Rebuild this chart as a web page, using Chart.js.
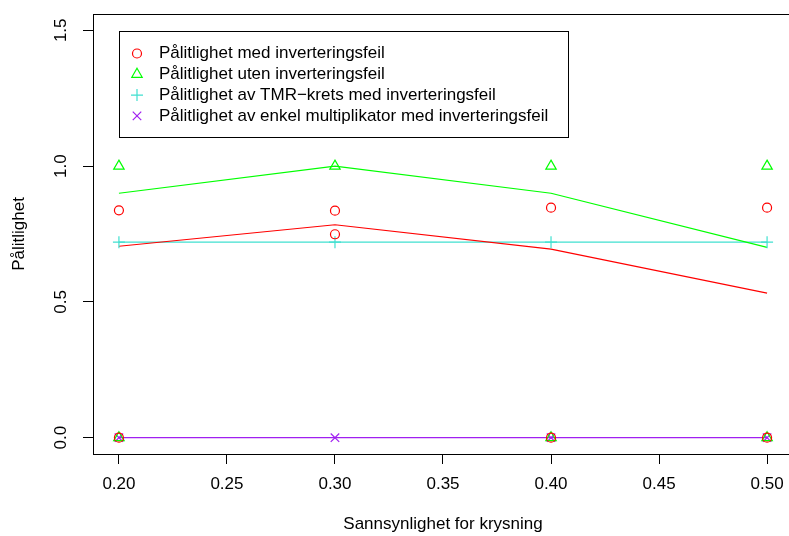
<!DOCTYPE html>
<html>
<head>
<meta charset="utf-8">
<script src="https://cdn.jsdelivr.net/npm/chart.js@4"></script>
<style>
html, body { margin: 0; padding: 0; overflow: hidden; background: #fff; }
</style>
</head>
<body>
<canvas id="chart" width="793" height="536"></canvas>
<script>
const xTicks = [0.20, 0.25, 0.30, 0.35, 0.40, 0.45, 0.50];
const yTicks = [0.0, 0.5, 1.0, 1.5];
const krysning = [0.2, 0.3, 0.4, 0.5];

const labels = [
    "Pålitlighet med inverteringsfeil",
    "Pålitlighet uten inverteringsfeil",
    "Pålitlighet av TMR\u2212krets med inverteringsfeil",
    "Pålitlighet av enkel multiplikator med inverteringsfeil",
];

// single observations [x, y]
const medFeilPunkter = [[0.2, 0.837], [0.2, 0], [0.3, 0.836], [0.3, 0.749], [0.4, 0.847], [0.4, 0], [0.5, 0.847], [0.5, 0]];
const utenFeilPunkter = [[0.2, 1.0], [0.2, 0], [0.3, 1.0], [0.4, 1.0], [0.4, 0], [0.5, 1.0], [0.5, 0]];
const tmrPunkter = [[0.2, 0.72], [0.3, 0.72], [0.4, 0.72], [0.5, 0.72]];
const enkelPunkter = [[0.2, 0], [0.3, 0], [0.4, 0], [0.5, 0]];

// lines through the means
const medFeilLinje = [0.705, 0.784, 0.694, 0.532];
const utenFeilLinje = [0.900, 1.0, 0.900, 0.701];
const tmrLinje = [0.72, 0.72, 0.72, 0.72];
const enkelLinje = [0, 0, 0, 0];

const colors = ["#FF0000", "#00FF00", "#40E0D0", "#A020F0"];
const styles = [
    { pointStyle: "circle", radius: 4.5 },
    { pointStyle: "triangle", radius: 6 },
    { pointStyle: "cross", radius: 6 },
    { pointStyle: "crossRot", radius: 6 },
];

Chart.defaults.font.family = '"Liberation Sans", Arial, Helvetica, sans-serif';
Chart.defaults.font.size = 17;
Chart.defaults.color = "#000";

function pointSet(i, pts) {
    return {
        label: labels[i],
        data: pts.map(p => ({ x: p[0], y: p[1] })),
        showLine: false,
        pointStyle: styles[i].pointStyle,
        pointRadius: styles[i].radius,
        pointBorderWidth: 1.2,
        borderColor: colors[i],
        backgroundColor: "rgba(0,0,0,0)",
        legendEntry: true,
    };
}

function lineSet(i, ys) {
    return {
        label: labels[i] + " (linje)",
        data: krysning.map((x, k) => ({ x: x, y: ys[k] })),
        showLine: true,
        pointRadius: 0,
        borderWidth: 1.2,
        borderColor: colors[i],
        backgroundColor: colors[i],
        tension: 0,
    };
}

const boxPlugin = {
    id: "box",
    afterDatasetsDraw(chart) {
        const a = chart.chartArea;
        const ctx = chart.ctx;
        ctx.save();
        ctx.strokeStyle = "#000";
        ctx.lineWidth = 1;
        ctx.strokeRect(a.left + 0.5, a.top + 0.5, a.right - a.left, a.bottom - a.top);
        ctx.restore();
    },
};

const legendPlugin = {
    id: "rlegend",
    afterDraw(chart) {
        const a = chart.chartArea;
        const ctx = chart.ctx;
        const left = a.left + 26, top = a.top + 17;
        const entries = chart.data.datasets.filter(d => d.legendEntry);
        ctx.save();
        ctx.strokeStyle = "#000";
        ctx.lineWidth = 1;
        ctx.strokeRect(left + 0.5, top + 0.5, 449, 106);
        ctx.font = '17px "Liberation Sans", Arial, Helvetica, sans-serif';
        ctx.textBaseline = "middle";
        ctx.textAlign = "left";
        entries.forEach((d, i) => {
            const y = top + 22.5 + i * 20.8;
            ctx.strokeStyle = d.borderColor;
            ctx.fillStyle = "rgba(0,0,0,0)";
            ctx.lineWidth = 1.2;
            Chart.helpers.drawPoint(ctx, {
                pointStyle: d.pointStyle, radius: d.pointRadius, rotation: 0, borderWidth: 1.2,
            }, left + 18, y);
            ctx.fillStyle = "#000";
            ctx.fillText(d.label, left + 40, y);
        });
        ctx.restore();
    },
};

new Chart(document.getElementById("chart").getContext("2d"), {
    type: "scatter",
    data: {
        datasets: [
            pointSet(0, medFeilPunkter),
            pointSet(1, utenFeilPunkter),
            pointSet(2, tmrPunkter),
            pointSet(3, enkelPunkter),
            lineSet(0, medFeilLinje),
            lineSet(1, utenFeilLinje),
            lineSet(2, tmrLinje),
            lineSet(3, enkelLinje),
        ],
    },
    options: {
        responsive: false,
        animation: false,
        devicePixelRatio: 1,
        layout: { padding: { top: 14, left: 0, right: 0, bottom: 0 }, autoPadding: false },
        plugins: { legend: { display: false }, tooltip: { enabled: false } },
        scales: {
            x: {
                type: "linear",
                position: "bottom",
                min: 0.188,
                max: 0.512,
                afterBuildTicks: s => { s.ticks = xTicks.map(v => ({ value: v })); },
                afterFit: s => { s.height = 82; s.paddingLeft = 0; s.paddingRight = 0; },
                ticks: { callback: v => v.toFixed(2), padding: 10, maxRotation: 0, color: "#000" },
                grid: { drawOnChartArea: false, drawTicks: true, tickLength: 10, color: "#000" },
                border: { display: true, color: "#000" },
                title: { display: true, text: "Sannsynlighet for krysning", padding: { top: 0, bottom: 1 }, color: "#000" },
            },
            y: {
                type: "linear",
                position: "left",
                min: -0.06,
                max: 1.56,
                afterBuildTicks: s => { s.ticks = yTicks.map(v => ({ value: v })); },
                afterFit: s => { s.width = 93; s.paddingTop = 0; s.paddingBottom = 0; },
                ticks: { callback: v => v.toFixed(1), padding: 10, minRotation: 90, maxRotation: 90, crossAlign: "center", color: "#000" },
                grid: { drawOnChartArea: false, drawTicks: true, tickLength: 10, color: "#000" },
                border: { display: true, color: "#000" },
                title: { display: true, text: "Pålitlighet", padding: { top: 9, bottom: 0 }, color: "#000" },
            },
        },
    },
    plugins: [boxPlugin, legendPlugin],
});
</script>
</body>
</html>
